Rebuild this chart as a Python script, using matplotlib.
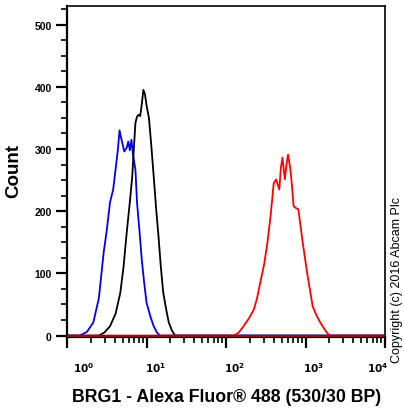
import numpy as np
import matplotlib.pyplot as plt
from matplotlib.ticker import FixedLocator, NullFormatter
import matplotlib.transforms as mtransforms

plt.rcParams['font.family'] = ['Liberation Sans', 'DejaVu Sans']

# log10 of fluorescence intensity vs. count
blue_log = [0.00, 0.16, 0.25, 0.33, 0.40, 0.46, 0.50, 0.54, 0.58, 0.61, 0.64, 0.66, 0.68,
            0.70, 0.72, 0.75, 0.77, 0.79, 0.81, 0.83, 0.86, 0.88, 0.91, 0.94, 0.97, 1.00,
            1.05, 1.09, 1.13, 1.17, 4.00]
blue_cnt = [0, 0, 6, 21, 60, 133, 170, 214, 235, 267, 300, 330, 318,
            307, 296, 302, 312, 298, 315, 290, 267, 214, 170, 122, 85, 53,
            30, 15, 5, 0, 0]

black_log = [0.00, 0.40, 0.47, 0.54, 0.61, 0.67, 0.71, 0.75, 0.79, 0.82, 0.84, 0.86, 0.88,
             0.90, 0.92, 0.94, 0.96, 0.98, 1.00, 1.03, 1.06, 1.09, 1.12, 1.15, 1.18, 1.21,
             1.25, 1.28, 1.32, 1.36, 4.00]
black_cnt = [0, 0, 5, 15, 35, 69, 110, 165, 215, 256, 300, 342, 352,
             355, 353, 372, 395, 388, 370, 350, 305, 256, 205, 160, 110, 69,
             40, 21, 8, 0, 0]

red_log = [0.00, 2.10, 2.16, 2.22, 2.29, 2.35, 2.39, 2.43, 2.48, 2.52, 2.56, 2.60, 2.63,
           2.67, 2.69, 2.71, 2.74, 2.76, 2.78, 2.81, 2.83, 2.85, 2.88, 2.91, 2.96, 3.02,
           3.09, 3.14, 3.19, 3.25, 3.30, 4.00]
red_cnt = [0, 0, 5, 15, 28, 42, 60, 85, 115, 149, 192, 245, 251,
           235, 270, 286, 251, 275, 291, 267, 240, 208, 205, 203, 154, 101,
           47, 32, 20, 8, 0, 0]

xlabel = 'BRG1 - Alexa Fluor® 488 (530/30 BP)'
ylabel = 'Count'
copyright_text = 'Copyright (c) 2016 Abcam Plc'

fig = plt.figure(figsize=(4.04, 4.10), dpi=100)
ax = fig.add_axes([0.166, 0.176, 0.787, 0.807])

ax.plot(10 ** np.array(blue_log), blue_cnt, color='#0000ee', lw=1.3)
ax.plot(10 ** np.array(black_log), black_cnt, color='black', lw=1.3)
ax.plot(10 ** np.array(red_log), red_cnt, color='#ff0000', lw=1.3)
ax.axhline(0, color='#8b1010', lw=1.5, zorder=4)

ax.set_xscale('log')
ax.set_xlim(1, 1e4)
ax.set_ylim(-2, 530)

ax.yaxis.set_major_locator(FixedLocator([0, 100, 200, 300, 400, 500]))
ax.yaxis.set_minor_locator(FixedLocator(np.arange(25, 526, 25)))
ax.xaxis.set_major_locator(FixedLocator([1, 10, 100, 1000, 10000]))
minor = [m * 10 ** d for d in range(4) for m in range(2, 10)]
ax.xaxis.set_minor_locator(FixedLocator(minor))
ax.xaxis.set_minor_formatter(NullFormatter())
ax.set_xticklabels([r'$\mathbf{10^{%d}}$' % i for i in range(5)])

ax.tick_params(axis='both', which='major', length=8, width=1.6, direction='out',
               labelsize=7.5)
ax.tick_params(axis='both', which='minor', length=4, width=1.2, direction='out')
ax.tick_params(axis='x', which='major', pad=9)
ax.tick_params(axis='y', which='major', pad=3)
for lab in ax.get_yticklabels():
    lab.set_fontweight('bold')

# the x labels sit a little off their ticks, the last one inside the frame
shifts = [6, -2, -2, -3, 3]
aligns = ['left', 'left', 'left', 'left', 'right']
for lab, dx, ha in zip(ax.get_xticklabels(), shifts, aligns):
    off = mtransforms.ScaledTranslation(dx / 100, 0, fig.dpi_scale_trans)
    lab.set_transform(lab.get_transform() + off)
    lab.set_horizontalalignment(ha)
    lab.set_fontsize(7.5)

for s in ax.spines.values():
    s.set_linewidth(1.2)
ax.spines['left'].set_linewidth(1.6)
ax.spines['bottom'].set_linewidth(1.6)

fig.text(0.033, 0.583, ylabel, rotation=90, ha='center', va='center',
         fontsize=13.5, fontweight='bold')
fig.text(0.56, 0.03, xlabel, ha='center', va='center',
         fontsize=12.8, fontweight='bold')
fig.text(0.982, 0.318, copyright_text, rotation=90, ha='center', va='center',
         fontsize=9)

fig.savefig('out.png', dpi=100)
